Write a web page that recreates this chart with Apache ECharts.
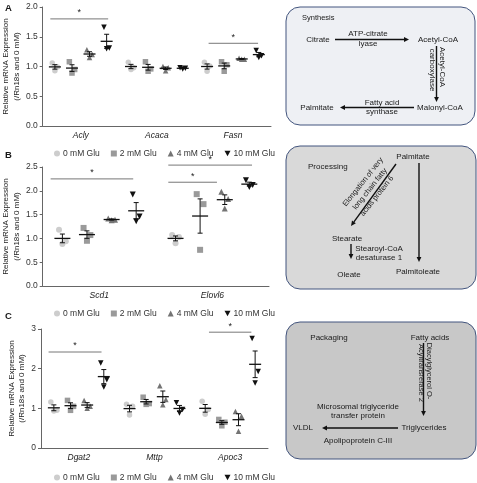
<!DOCTYPE html>
<html>
<head>
<meta charset="utf-8">
<script src="https://cdn.jsdelivr.net/npm/echarts@6/dist/echarts.min.js"></script>
<style>
html, body { margin: 0; padding: 0; background: #fff; }
#fig { width: 477px; height: 483px; }
</style>
</head>
<body>
<div id="fig"></div>
<script>
var groups = ['0 mM Glu', '2 mM Glu', '4 mM Glu', '10 mM Glu'];

var genesA = ['Acly', 'Acaca', 'Fasn'];
var genesB = ['Scd1', 'Elovl6'];
var genesC = ['Dgat2', 'Mttp', 'Apoc3'];

// replicates per gene, per glucose group (0, 2, 4, 10 mM)
var valuesA = [
  [[1.06, 0.99, 0.93], [1.08, 0.95, 0.89], [1.28, 1.20, 1.15], [1.66, 1.31, 1.30]],
  [[1.07, 0.98, 0.95], [1.08, 0.96, 0.92], [1.00, 0.98, 0.93], [0.98, 0.97, 0.96]],
  [[1.07, 1.01, 0.92], [1.08, 1.03, 0.92], [1.14, 1.12, 1.12], [1.27, 1.18, 1.15]]
];
var valuesB = [
  [[1.18, 0.94, 0.88], [1.22, 1.07, 0.95], [1.42, 1.39, 1.38], [1.92, 1.46, 1.36]],
  [[1.07, 1.03, 0.90], [1.93, 1.72, 0.76], [1.98, 1.83, 1.63], [2.22, 2.12, 2.08]]
];
var valuesC = [
  [[1.16, 0.95, 0.93], [1.20, 1.05, 0.95], [1.20, 1.05, 1.00], [2.14, 1.72, 1.54]],
  [[1.10, 1.05, 0.83], [1.28, 1.12, 1.10], [1.57, 1.22, 1.09], [1.14, 0.97, 0.88]],
  [[1.18, 0.97, 0.85], [0.72, 0.65, 0.56], [0.92, 0.80, 0.42], [2.76, 1.93, 1.64]]
];

// significance bars: [from x, to x, y] in axis units
var sigA = [[-0.40, 0.36, 1.80], [1.68, 2.33, 1.39]];
var sigB = [[-0.43, 0.30, 2.25], [0.61, 1.04, 2.18], [0.61, 1.35, 2.54]];
var sigC = [[-0.40, 0.30, 2.42], [1.72, 2.28, 2.92]];

var yMax = [2, 2.5, 3];
var yStep = [0.5, 0.5, 1];

var colors = ['#cdcdcd', '#9a9a9a', '#747474', '#111111'];
var downTri = 'path://M0,0L10,0L5,9Z';
var symbols = ['circle', 'rect', 'triangle', downTri];
var FONT = 'Liberation Sans, Arial, sans-serif';

var panels = [
  { genes: genesA, values: valuesA, sig: sigA, offs: [-0.34, -0.115, 0.115, 0.34], jit: [-0.035, 0.035, 0], size: 5.5, hw: 6,
    grid: { left: 41, top: 7, width: 230, height: 119 } },
  { genes: genesB, values: valuesB, sig: sigB, offs: [-0.326, -0.109, 0.109, 0.326], jit: [-0.03, 0.03, 0], size: 6, hw: 8,
    grid: { left: 42, top: 167, width: 227, height: 119 } },
  { genes: genesC, values: valuesC, sig: sigC, offs: [-0.33, -0.11, 0.11, 0.33], jit: [-0.04, 0.04, 0], size: 5.5, hw: 6,
    grid: { left: 41, top: 329, width: 227, height: 119 } }
];

function meanSem(arr) {
  var n = arr.length, m = 0, v = 0;
  arr.forEach(function (a) { m += a; });
  m /= n;
  arr.forEach(function (a) { v += (a - m) * (a - m); });
  return [m, Math.sqrt(v / (n - 1)) / Math.sqrt(n)];
}

var grids = [], xAxes = [], yAxes = [], series = [];

panels.forEach(function (p, i) {
  grids.push(p.grid);
  xAxes.push({
    type: 'category', gridIndex: i, data: p.genes,
    axisLine: { onZero: false, lineStyle: { color: '#666', width: 1 } },
    axisTick: { alignWithLabel: true, length: 3, lineStyle: { color: '#666' } },
    axisLabel: { fontStyle: 'italic', fontSize: 8.5, color: '#222', margin: 5, fontFamily: FONT }
  });
  xAxes.push({ type: 'value', gridIndex: i, min: -0.5, max: p.genes.length - 0.5, show: false });
  yAxes.push({
    type: 'value', gridIndex: i, min: 0, max: yMax[i], interval: yStep[i],
    name: 'Relative mRNA Expression\n(/Rn18s and 0 mM)',
    nameLocation: 'middle', nameGap: 13,
    nameTextStyle: { fontSize: 8, color: '#222', lineHeight: 10.5, fontFamily: FONT },
    axisLine: { show: true, onZero: false, lineStyle: { color: '#666', width: 1 } },
    axisTick: { show: true, length: 3, lineStyle: { color: '#666' } },
    splitLine: { show: false },
    axisLabel: {
      fontSize: 8.5, color: '#333', margin: 5, fontFamily: FONT,
      formatter: function (v) { return yStep[i] < 1 ? v.toFixed(1) : String(v); }
    }
  });

  var means = [];
  groups.forEach(function (g, k) {
    var pts = [];
    p.genes.forEach(function (gene, c) {
      p.values[c][k].forEach(function (v, r) {
        pts.push([c + p.offs[k] + p.jit[r], v]);
      });
      var ms = meanSem(p.values[c][k]);
      means.push([c + p.offs[k], ms[0], ms[1]]);
    });
    series.push({
      type: 'scatter', name: g, xAxisIndex: i * 2 + 1, yAxisIndex: i,
      data: pts, symbol: symbols[k], symbolSize: p.size,
      itemStyle: { color: colors[k], opacity: 1 }, z: 2
    });
  });

  series.push({
    type: 'custom', xAxisIndex: i * 2 + 1, yAxisIndex: i, data: means, z: 5, silent: true,
    renderItem: function (params, api) {
      var x = api.value(0), m = api.value(1), e = api.value(2);
      var c = api.coord([x, m]), t = api.coord([x, m + e]), b = api.coord([x, m - e]);
      var st = { stroke: '#111', lineWidth: 1 };
      return { type: 'group', children: [
        { type: 'line', shape: { x1: c[0] - p.hw, y1: c[1], x2: c[0] + p.hw, y2: c[1] }, style: { stroke: '#111', lineWidth: 1.3 } },
        { type: 'line', shape: { x1: c[0], y1: t[1], x2: c[0], y2: b[1] }, style: st },
        { type: 'line', shape: { x1: c[0] - 2.5, y1: t[1], x2: c[0] + 2.5, y2: t[1] }, style: st },
        { type: 'line', shape: { x1: c[0] - 2.5, y1: b[1], x2: c[0] + 2.5, y2: b[1] }, style: st }
      ] };
    }
  });

  series.push({
    type: 'custom', xAxisIndex: i * 2 + 1, yAxisIndex: i, data: p.sig, z: 5, silent: true,
    renderItem: function (params, api) {
      var a = api.coord([api.value(0), api.value(2)]), b = api.coord([api.value(1), api.value(2)]);
      return { type: 'group', children: [
        { type: 'line', shape: { x1: a[0], y1: a[1], x2: b[0], y2: b[1] }, style: { stroke: '#777', lineWidth: 1 } },
        { type: 'text', x: (a[0] + b[0]) / 2, y: a[1] - 6,
          style: { text: '*', fill: '#222', font: '9px ' + FONT, align: 'center', verticalAlign: 'middle', textAlign: 'center', textVerticalAlign: 'middle' } }
      ] };
    }
  });
});

function legendAt(top) {
  return {
    top: top, left: 54, padding: 0, itemWidth: 6, itemHeight: 6, itemGap: 11,
    selectedMode: false,
    textStyle: { fontSize: 8.5, color: '#333', fontFamily: FONT, padding: [0, 0, 0, -2] },
    data: groups.map(function (g, k) { return { name: g, icon: symbols[k] }; })
  };
}

// --- pathway diagrams ---
function txt(x, y, s, opt) {
  opt = opt || {};
  var al = opt.align || 'center';
  return { type: 'text', x: x, y: y, rotation: opt.rot || 0, z: 10,
    style: { text: s, fill: '#1a1a1a', font: (opt.weight || '') + ' ' + (opt.size || 8) + 'px ' + FONT,
      align: al, verticalAlign: 'middle', textAlign: al, textVerticalAlign: 'middle' } };
}
function arrow(x1, y1, x2, y2) {
  var a = Math.atan2(y2 - y1, x2 - x1), L = 5, W = 2.4;
  var bx = x2 - L * Math.cos(a), by = y2 - L * Math.sin(a);
  return [
    { type: 'line', z: 9, shape: { x1: x1, y1: y1, x2: bx, y2: by }, style: { stroke: '#111', lineWidth: 1.4 } },
    { type: 'polygon', z: 9, shape: { points: [[x2, y2], [bx + W * Math.sin(a), by - W * Math.cos(a)], [bx - W * Math.sin(a), by + W * Math.cos(a)]] },
      style: { fill: '#111' } }
  ];
}
function box(x, y, w, h, fill) {
  return { type: 'rect', z: 8, shape: { x: x, y: y, width: w, height: h, r: 14 },
    style: { fill: fill, stroke: '#43557e', lineWidth: 1 } };
}

var diag = [];
// panel letters
diag.push(txt(5, 8, 'A', { align: 'left', weight: 'bold', size: 9.5 }));
diag.push(txt(5, 155, 'B', { align: 'left', weight: 'bold', size: 9.5 }));
diag.push(txt(5, 316, 'C', { align: 'left', weight: 'bold', size: 9.5 }));

// Synthesis
diag.push(box(286, 7, 189, 118, '#eef0f4'));
diag.push(txt(302, 18, 'Synthesis', { align: 'left', size: 7.5 }));
diag.push(txt(318, 40, 'Citrate'));
diag = diag.concat(arrow(335, 39.5, 409, 39.5));
diag.push(txt(368, 34, 'ATP-citrate'));
diag.push(txt(368, 43.5, 'lyase'));
diag.push(txt(438, 40, 'Acetyl-CoA'));
diag = diag.concat(arrow(436.5, 46, 436.5, 102));
diag.push(txt(442.5, 67, 'Acetyl-CoA', { rot: -Math.PI / 2 }));
diag.push(txt(432.5, 70, 'carboxylase', { rot: -Math.PI / 2 }));
diag.push(txt(440, 108, 'Malonyl-CoA'));
diag = diag.concat(arrow(414, 107.5, 340, 107.5));
diag.push(txt(382, 103, 'Fatty acid'));
diag.push(txt(382, 112, 'synthase'));
diag.push(txt(317, 108, 'Palmitate'));

// Processing
diag.push(box(286, 146, 190, 143, '#d9d9d9'));
diag.push(txt(308, 167, 'Processing', { align: 'left' }));
diag.push(txt(413, 157, 'Palmitate'));
diag = diag.concat(arrow(419, 163, 419, 262));
diag = diag.concat(arrow(396, 164, 351, 226));
diag.push(txt(363, 182, 'Elongation of very', { rot: 0.9, size: 7.5 }));
diag.push(txt(370, 189, 'long chain fatty', { rot: 0.9, size: 7.5 }));
diag.push(txt(377, 196, 'acids protein 6', { rot: 0.9, size: 7.5 }));
diag.push(txt(347, 239, 'Stearate'));
diag = diag.concat(arrow(351, 244, 351, 259));
diag.push(txt(379, 249, 'Stearoyl-CoA'));
diag.push(txt(379, 257.5, 'desaturase 1'));
diag.push(txt(349, 275, 'Oleate'));
diag.push(txt(418, 272, 'Palmitoleate'));

// Packaging
diag.push(box(286, 322, 190, 137, '#c8c8c8'));
diag.push(txt(329, 338, 'Packaging'));
diag.push(txt(430, 338, 'Fatty acids'));
diag = diag.concat(arrow(423.5, 343, 423.5, 416));
diag.push(txt(429.5, 371, 'Diacylglycerol O-', { rot: -Math.PI / 2, size: 7.5 }));
diag.push(txt(421, 373, 'Acyltransferase 2', { rot: -Math.PI / 2, size: 7.5 }));
diag.push(txt(358, 407, 'Microsomal triglyceride'));
diag.push(txt(358, 416, 'transfer protein'));
diag.push(txt(303, 428, 'VLDL'));
diag = diag.concat(arrow(398, 428, 322, 428));
diag.push(txt(424, 428, 'Triglycerides'));
diag.push(txt(358, 441, 'Apolipoprotein C-III'));

var chart = echarts.init(document.getElementById('fig'), null, { renderer: 'canvas' });
chart.setOption({
  animation: false,
  backgroundColor: '#fff',
  textStyle: { fontFamily: FONT },
  grid: grids,
  xAxis: xAxes,
  yAxis: yAxes,
  legend: [legendAt(149), legendAt(309), legendAt(473)],
  series: series,
  graphic: diag
});
</script>
</body>
</html>
